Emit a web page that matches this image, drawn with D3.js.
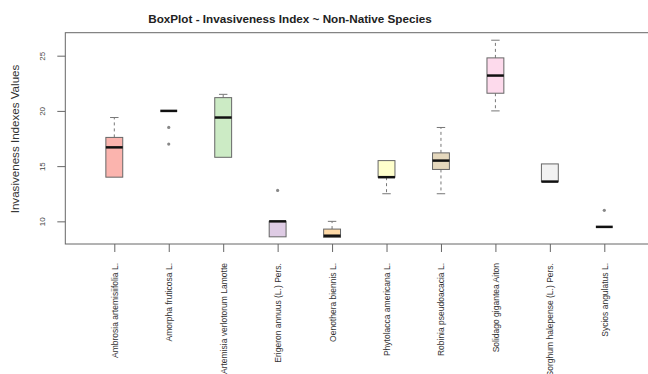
<!DOCTYPE html>
<html lang="en">
<head>
<meta charset="UTF-8" />
<title>BoxPlot - Invasiveness Index</title>
<script src="https://cdn.jsdelivr.net/npm/d3@7"></script>
<style>
  html, body { margin: 0; padding: 0; background: #fff; }
  text { font-family: "Liberation Sans", Arial, Helvetica, sans-serif; }
</style>
</head>
<body>
<div id="chart"></div>
<script>
// data
const species = ["Ambrosia artemisiifolia L.", "Amorpha fruticosa L.", "Artemisia verlotorum Lamotte",
  "Erigeron annuus (L.) Pers.", "Oenothera biennis L.", "Phytolacca americana L.",
  "Robinia pseudoacacia L.", "Solidago gigantea Aiton", "Sorghum halepense (L.) Pers.", "Sycios angulatus L."];
const whiskLo = [14.0, 20.0, 15.8, 8.6, 8.55, 12.5, 12.5, 20.0, 13.6, 9.5];
const q1      = [14.0, 20.0, 15.8, 8.6, 8.55, 14.0, 14.7, 21.6, 13.6, 9.5];
const median  = [16.7, 20.0, 19.4, 10.0, 8.7, 14.0, 15.5, 23.2, 13.6, 9.5];
const q3      = [17.6, 20.0, 21.2, 10.0, 9.3, 15.5, 16.2, 24.8, 15.2, 9.5];
const whiskHi = [19.4, 20.0, 21.5, 10.0, 10.0, 15.5, 18.5, 26.4, 15.2, 9.5];
const outliers = [[], [18.5, 17.0], [], [12.8], [], [], [], [], [], [11.0]];
const yTicks = [10, 15, 20, 25];
const palette = ["#FBB4AE", "#B3CDE3", "#CCEBC5", "#DECBE4", "#FED9A6", "#FFFFCC", "#E5D8BD", "#FDDAEC", "#F2F2F2"];

const W = 648, H = 374;
const svg = d3.select("#chart").append("svg")
  .attr("width", W).attr("height", H);

const x = d3.scaleLinear().domain([0.1, 10.9]).range([65.3, 653.3]);
const y = d3.scaleLinear().domain([7.95, 27.08]).range([244, 32.7]);
const color = d3.scaleOrdinal().domain(d3.range(10)).range(palette);
const half = 0.155; // half box width in x units

const rows = species.map((s, i) => ({
  name: s, i: i, lo: whiskLo[i], q1: q1[i], med: median[i], q3: q3[i], hi: whiskHi[i], out: outliers[i]
}));

// title
svg.append("text")
  .attr("x", 290).attr("y", 23)
  .attr("text-anchor", "middle")
  .attr("font-size", 11.7).attr("font-weight", "bold")
  .attr("fill", "#222")
  .text("BoxPlot - Invasiveness Index ~ Non-Native Species");

// y axis label
svg.append("text")
  .attr("transform", "translate(15,139) rotate(-90)")
  .attr("text-anchor", "middle").attr("dy", "0.35em")
  .attr("font-size", 11.6).attr("fill", "#333")
  .text("Invasiveness Indexes Values");

// boxes
const g = svg.selectAll("g.box").data(rows).enter().append("g").attr("class", "box");

g.filter(d => d.hi > d.q3).append("line")
  .attr("x1", d => x(d.i + 1)).attr("x2", d => x(d.i + 1))
  .attr("y1", d => y(d.q3)).attr("y2", d => y(d.hi))
  .attr("stroke", "#777").attr("stroke-dasharray", "3,3");
g.filter(d => d.lo < d.q1).append("line")
  .attr("x1", d => x(d.i + 1)).attr("x2", d => x(d.i + 1))
  .attr("y1", d => y(d.q1)).attr("y2", d => y(d.lo))
  .attr("stroke", "#777").attr("stroke-dasharray", "3,3");
g.filter(d => d.hi > d.q3).append("line")
  .attr("x1", d => x(d.i + 1 - half / 2)).attr("x2", d => x(d.i + 1 + half / 2))
  .attr("y1", d => y(d.hi)).attr("y2", d => y(d.hi))
  .attr("stroke", "#777");
g.filter(d => d.lo < d.q1).append("line")
  .attr("x1", d => x(d.i + 1 - half / 2)).attr("x2", d => x(d.i + 1 + half / 2))
  .attr("y1", d => y(d.lo)).attr("y2", d => y(d.lo))
  .attr("stroke", "#777");

g.filter(d => d.q3 > d.q1).append("rect")
  .attr("x", d => x(d.i + 1 - half))
  .attr("width", d => x(d.i + 1 + half) - x(d.i + 1 - half))
  .attr("y", d => y(d.q3))
  .attr("height", d => y(d.q1) - y(d.q3))
  .attr("fill", d => color(d.i))
  .attr("stroke", "#666").attr("stroke-width", 1);

g.append("line")
  .attr("x1", d => x(d.i + 1 - half)).attr("x2", d => x(d.i + 1 + half))
  .attr("y1", d => y(d.med)).attr("y2", d => y(d.med))
  .attr("stroke", "#111").attr("stroke-width", 2.5);

g.selectAll("circle").data(d => d.out.map(v => ({ i: d.i, v: v }))).enter().append("circle")
  .attr("cx", d => x(d.i + 1)).attr("cy", d => y(d.v))
  .attr("r", 1.6).attr("fill", "#888");

// frame
svg.append("rect")
  .attr("x", x(0.1)).attr("y", y(27.08))
  .attr("width", x(10.9) - x(0.1)).attr("height", y(7.95) - y(27.08))
  .attr("fill", "none").attr("stroke", "#666");

// y axis
const yAxis = svg.append("g")
  .attr("transform", `translate(${x(0.1)},0)`)
  .call(d3.axisLeft(y).tickValues(yTicks).tickSize(8).tickFormat(d3.format("d")));
yAxis.select(".domain").remove();
yAxis.selectAll(".tick line").attr("stroke", "#666");
yAxis.selectAll(".tick text")
  .attr("transform", "rotate(-90)")
  .attr("x", 0).attr("y", -23).attr("dy", "0.35em")
  .attr("text-anchor", "middle")
  .attr("font-size", 8).attr("fill", "#444")
  .attr("font-family", null);

// x axis
const xAxis = svg.append("g")
  .attr("transform", `translate(0,${y(7.95)})`)
  .call(d3.axisBottom(x).tickValues(d3.range(1, 11)).tickSize(8).tickFormat(d => species[d - 1]));
xAxis.select(".domain").remove();
xAxis.selectAll(".tick line").attr("stroke", "#666");
xAxis.selectAll(".tick text")
  .attr("transform", "rotate(-90)")
  .attr("x", -19).attr("y", 0).attr("dy", "0.35em")
  .attr("text-anchor", "end")
  .attr("font-size", 8.5).attr("fill", "#333")
  .attr("font-family", null);
</script>
</body>
</html>
